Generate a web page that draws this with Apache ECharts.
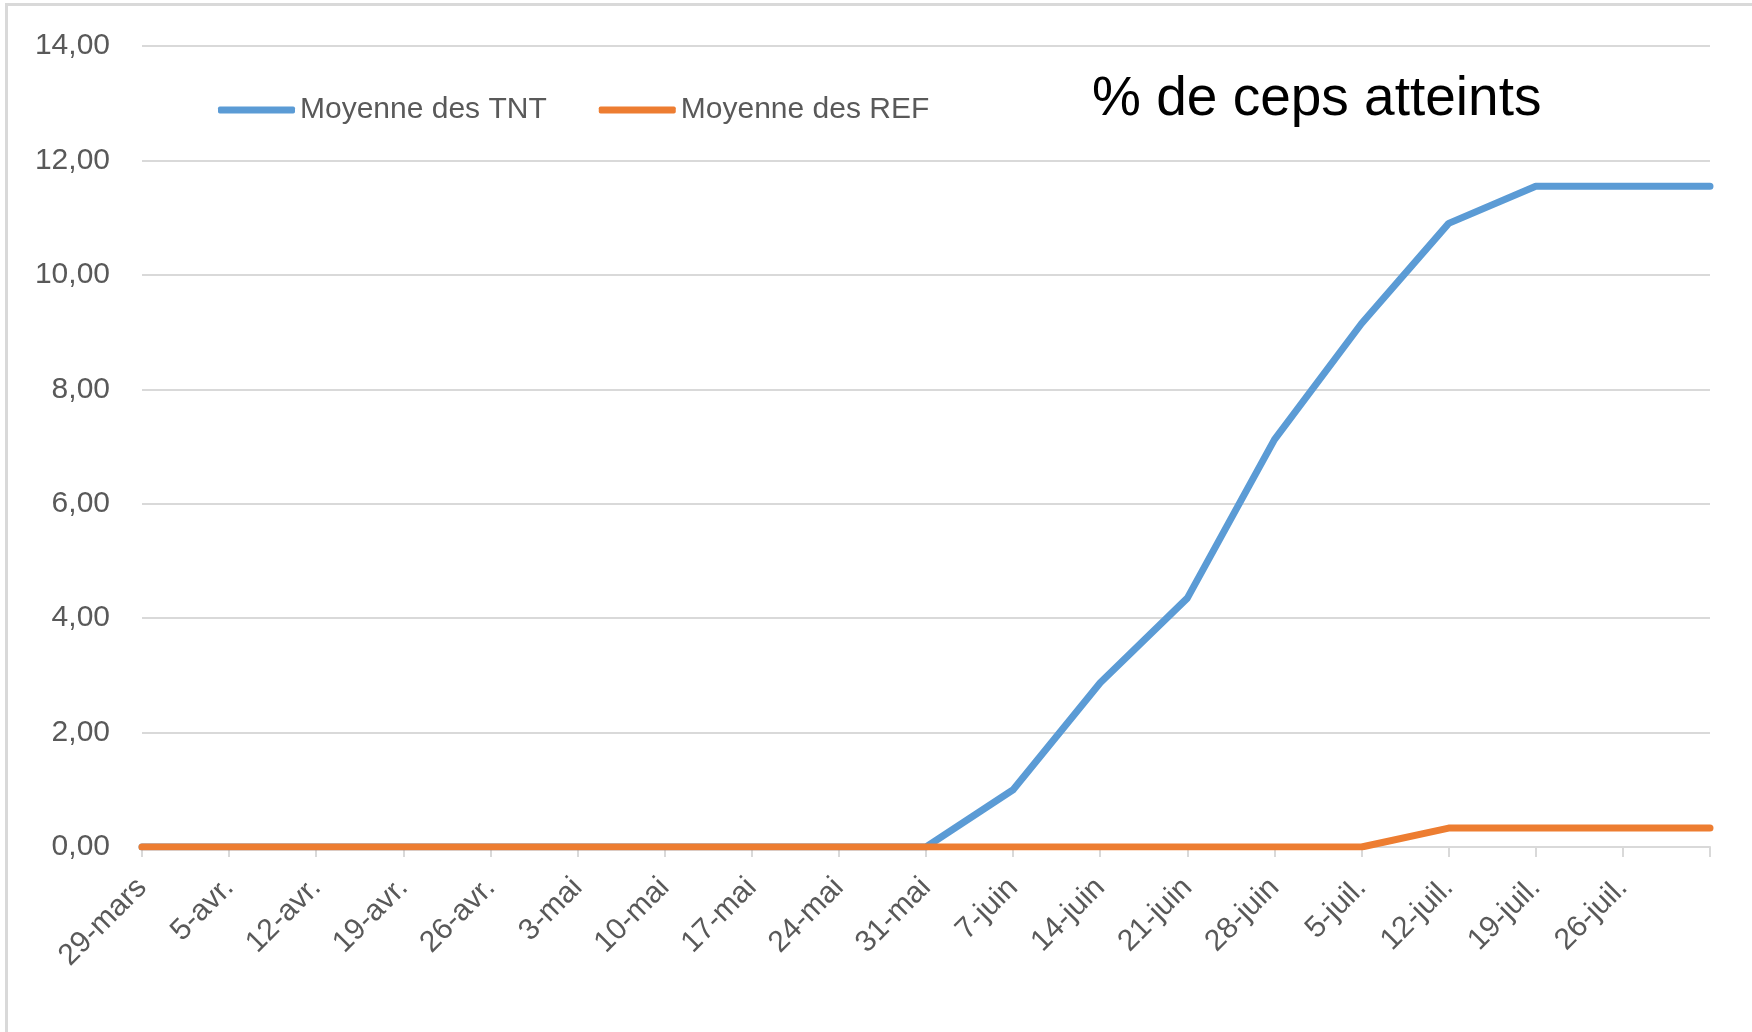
<!DOCTYPE html>
<html>
<head>
<meta charset="utf-8">
<script src="https://cdn.jsdelivr.net/npm/echarts@6/dist/echarts.min.js"></script>
<style>
  html, body { margin: 0; padding: 0; background: #fff; }
  #chart { width: 1752px; height: 1032px; position: absolute; left: 0; top: 0; }
  #frame { position: absolute; left: 5px; top: 3px; width: 1760px; height: 1040px;
           border-left: 3px solid #d9d9d9; border-top: 3px solid #d9d9d9; pointer-events: none; }
</style>
</head>
<body>
<div id="chart"></div>
<div id="frame"></div>
<script>
const categories = ['29-mars','5-avr.','12-avr.','19-avr.','26-avr.','3-mai','10-mai','17-mai','24-mai','31-mai',
                    '7-juin','14-juin','21-juin','28-juin','5-juil.','12-juil.','19-juil.','26-juil.','2-août'];
const tntValues = [0,0,0,0,0,0,0,0,0,0, 1.0, 2.87, 4.35, 7.12, 9.15, 10.9, 11.55, 11.55, 11.55];
const refValues = [0,0,0,0,0,0,0,0,0,0, 0,0,0,0,0, 0.33, 0.33, 0.33, 0.33];
const seriesNames = ['Moyenne des TNT', 'Moyenne des REF'];
const titleText = '% de ceps atteints';

const chart = echarts.init(document.getElementById('chart'));
const font = '"Liberation Sans", Arial, sans-serif';
chart.setOption({
  backgroundColor: '#ffffff',
  animation: false,
  title: {
    text: titleText, left: 1087, top: 67,
    textStyle: { fontFamily: font, fontSize: 55, fontWeight: 'normal', color: '#000000' }
  },
  legend: {
    left: 213, top: 90, itemWidth: 77, itemHeight: 7, itemGap: 52,
    icon: 'roundRect',
    textStyle: { fontFamily: font, fontSize: 30, color: '#595959' },
    data: seriesNames
  },
  grid: { left: 142, right: 42, top: 46, bottom: 185, containLabel: false },
  xAxis: {
    type: 'category', data: categories, boundaryGap: false,
    axisLine: { lineStyle: { color: '#d9d9d9', width: 2 } },
    axisTick: { show: true, length: 10, interval: 0, lineStyle: { color: '#d9d9d9', width: 2 } },
    axisLabel: {
      interval: 0, rotate: 45, margin: 36, color: '#595959', fontFamily: font, fontSize: 30,
      formatter: function (v, i) { return i === categories.length - 1 ? '' : v; }
    }
  },
  yAxis: {
    type: 'value', min: 0, max: 14, interval: 2,
    axisLine: { show: false }, axisTick: { show: false },
    splitLine: { lineStyle: { color: '#d9d9d9', width: 2 } },
    axisLabel: {
      margin: 32, color: '#595959', fontFamily: font, fontSize: 30,
      formatter: function (v) { return v.toFixed(2).replace('.', ','); }
    }
  },
  series: [
    { name: seriesNames[0], type: 'line', data: tntValues, showSymbol: false, symbol: 'none',
      color: '#5B9BD5', lineStyle: { width: 7, color: '#5B9BD5', cap: 'round', join: 'round' }, z: 2 },
    { name: seriesNames[1], type: 'line', data: refValues, showSymbol: false, symbol: 'none',
      color: '#ED7D31', lineStyle: { width: 7, color: '#ED7D31', cap: 'round', join: 'round' }, z: 3 }
  ]
});
</script>
</body>
</html>
